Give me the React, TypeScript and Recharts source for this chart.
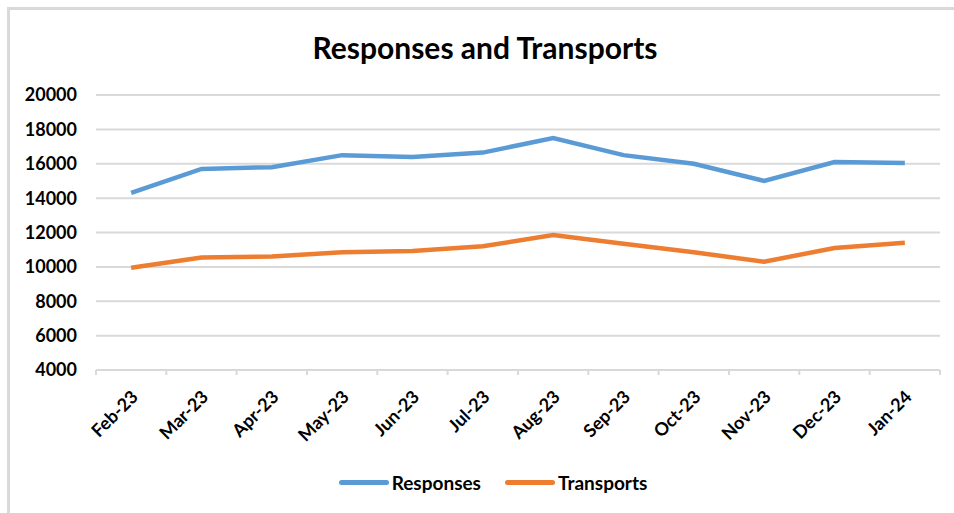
import { CartesianGrid, Legend, Line, LineChart, XAxis, YAxis } from "recharts";

const BLUE = "#5b9bd5";
const ORANGE = "#ed7d31";
const GRID = "#d9d9d9";
const FONT = "Lato, 'Open Sans', sans-serif";

const months = [
  "Feb-23", "Mar-23", "Apr-23", "May-23", "Jun-23", "Jul-23",
  "Aug-23", "Sep-23", "Oct-23", "Nov-23", "Dec-23", "Jan-24",
];
const responses = [14300, 15700, 15800, 16500, 16400, 16650, 17500, 16500, 16000, 15000, 16100, 16050];
const transports = [9950, 10550, 10600, 10850, 10930, 11200, 11850, 11350, 10850, 10300, 11100, 11400];
const yTicks = [4000, 6000, 8000, 10000, 12000, 14000, 16000, 18000, 20000];

const data = months.map((month, i) => ({
  month,
  responses: responses[i],
  transports: transports[i],
}));

// half a category band, used to put the tick marks between months like Excel does
const HALF_BAND = 35.2;

function MonthTick(props: any) {
  const { x, y, payload, index } = props;
  const tx = x + 8;
  const ty = y + 28;
  return (
    <g>
      <line x1={x - HALF_BAND} x2={x - HALF_BAND} y1={y} y2={y + 5} stroke={GRID} strokeWidth={2} />
      {index === months.length - 1 ? (
        <line x1={x + HALF_BAND} x2={x + HALF_BAND} y1={y} y2={y + 5} stroke={GRID} strokeWidth={2} />
      ) : null}
      <text
        x={tx}
        y={ty}
        transform={`rotate(-45, ${tx}, ${ty})`}
        textAnchor="end"
        fill="#000"
        fontSize={18}
        fontWeight={700}
        fontFamily={FONT}
      >
        {payload.value}
      </text>
    </g>
  );
}

function LegendContent(props: any) {
  const items = props.payload ?? [];
  return (
    <div style={{ display: "flex", justifyContent: "center", paddingLeft: 38, fontFamily: FONT }}>
      {items.map((item: any, i: number) => (
        <div
          key={item.value}
          style={{ display: "flex", alignItems: "center", marginLeft: i === 0 ? 0 : 24 }}
        >
          <span
            style={{
              display: "inline-block",
              width: 50,
              height: 5,
              borderRadius: 3,
              background: item.color,
              marginRight: 3,
            }}
          />
          <span style={{ fontSize: 19, fontWeight: 700, color: "#000" }}>{item.value}</span>
        </div>
      ))}
    </div>
  );
}

export default function App() {
  return (
    <div
      style={{
        position: "absolute",
        left: 0,
        top: 0,
        width: 954,
        height: 513,
        overflow: "hidden",
        background: "#fff",
      }}
    >
      <div
        style={{
          position: "absolute",
          left: 7,
          top: 7,
          width: 1000,
          height: 600,
          borderLeft: `3px solid ${GRID}`,
          borderTop: `3px solid ${GRID}`,
        }}
      />
      <div
        style={{
          position: "absolute",
          left: 0,
          top: 29,
          width: 970,
          textAlign: "center",
          fontFamily: FONT,
          fontWeight: 700,
          fontSize: 30,
          color: "#000",
        }}
      >
        Responses and Transports
      </div>
      <div style={{ position: "absolute", left: 0, top: 0 }}>
        <LineChart
          width={954}
          height={513}
          data={data}
          margin={{ top: 95, right: 14, bottom: 16, left: 8 }}
        >
          <CartesianGrid stroke={GRID} strokeWidth={2} vertical={false} />
          <XAxis
            dataKey="month"
            scale="band"
            interval={0}
            height={101}
            tickSize={0}
            tickMargin={0}
            axisLine={{ stroke: GRID, strokeWidth: 2 }}
            tickLine={false}
            tick={<MonthTick />}
          />
          <YAxis
            domain={[4000, 20000]}
            ticks={yTicks}
            interval={0}
            width={88}
            axisLine={false}
            tickLine={false}
            tickMargin={13}
            tick={{ fill: "#000", fontSize: 18, fontWeight: 700, fontFamily: FONT }}
          />
          <Legend verticalAlign="bottom" height={26} content={<LegendContent />} />
          <Line
            type="linear"
            dataKey="responses"
            name="Responses"
            stroke={BLUE}
            strokeWidth={4.5}
            dot={false}
            isAnimationActive={false}
          />
          <Line
            type="linear"
            dataKey="transports"
            name="Transports"
            stroke={ORANGE}
            strokeWidth={4.5}
            dot={false}
            isAnimationActive={false}
          />
        </LineChart>
      </div>
    </div>
  );
}
